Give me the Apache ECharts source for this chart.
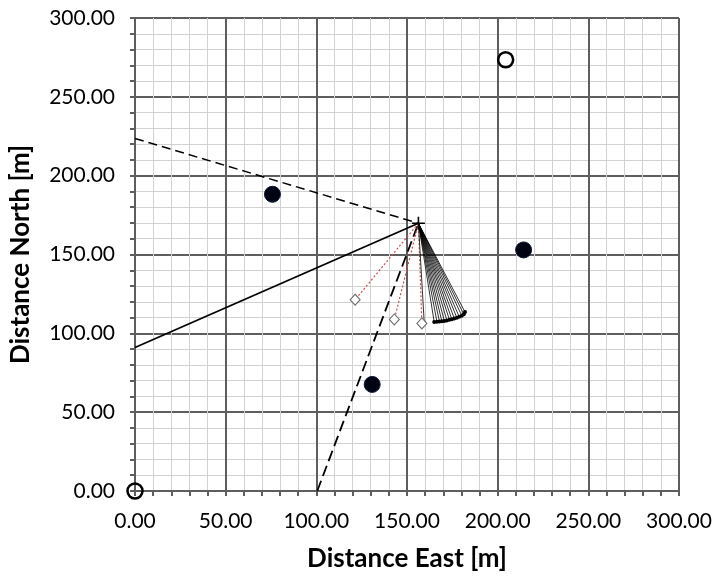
<!DOCTYPE html>
<html>
<head>
<meta charset="utf-8">
<script src="https://cdn.jsdelivr.net/npm/echarts@6/dist/echarts.min.js"></script>
<style>html,body{margin:0;padding:0;background:#fff}#c{width:716px;height:577px}</style>
</head>
<body>
<div id="c"></div>
<script>
const filledPts = [[75.8,188.2],[214.3,152.9],[130.8,67.6]];
const openPts = [[0,0],[204.4,273.5]];
const station = [156.3,169.8];
const dashedStartA = [0,223.6];
const solidStart = [0,91.0];
const dashedStartB = [100.5,0];
const diamonds = [[121.4,121.3],[143.0,108.8],[158.2,106.3]];
const nearDot = [159.5,106.8];
const fanEnds = [[165.0,107.2],[166.5,107.4],[167.9,107.5],[169.2,107.7],[170.6,107.9],[172.0,108.2],[173.4,108.6],[174.7,109.0],[176.1,109.4],[177.5,109.9],[178.8,110.5],[180.2,111.2],[181.3,112.1],[182.0,113.5]];

const FONT = 'Lato';
const axisCol = '#5e5e5e';
const series = [];

function seg(a, b, style, z) {
  series.push({type:'line', data:[a,b], symbol:'none', silent:true, z:z||3,
    lineStyle:style, animation:false});
}
seg(dashedStartA, station, {color:'#000', width:1.5, type:[9,5]});
seg(solidStart, station, {color:'#000', width:1.8, type:'solid'});
seg(dashedStartB, station, {color:'#000', width:1.8, type:[11,5]});
diamonds.forEach(d => seg(station, d, {color:'#cc4f4f', width:1.2, type:[2,2]}));
fanEnds.forEach(e => seg(station, e, {color:'#000', width:0.8, type:'solid'}, 4));
seg(station, nearDot, {color:'#000', width:0.8, type:'solid'}, 4);

series.push({type:'scatter', data:fanEnds.concat([nearDot]), symbol:'circle', symbolSize:4,
  itemStyle:{color:'#000', opacity:1}, z:5, animation:false});
series.push({type:'scatter', data:diamonds, symbol:'diamond', symbolSize:[10,11],
  itemStyle:{color:'#fff', borderColor:'#6e6e6e', borderWidth:1.1, opacity:1}, z:5, animation:false});
series.push({type:'scatter', data:filledPts, symbol:'circle', symbolSize:16,
  itemStyle:{color:'#000312', borderColor:'#0b1733', borderWidth:1, opacity:1}, z:6, animation:false});
series.push({type:'scatter', data:openPts, symbol:'circle', symbolSize:15,
  itemStyle:{color:'rgba(0,0,0,0)', borderColor:'#000', borderWidth:2.5, opacity:1}, z:6, animation:false});
series.push({type:'scatter', data:[station], symbol:'path://M0,-6L0,6M-6,0L6,0', symbolSize:13,
  itemStyle:{color:'none', borderColor:'#000', borderWidth:1.6, opacity:1}, z:7, animation:false});

function axis(name, isY) {
  return {
    type:'value', min:0, max:300, interval:50,
    name:name, nameLocation:'middle', nameGap: isY ? 101 : 55,
    nameTextStyle:{fontFamily:FONT, fontWeight:'bold', fontSize:26, color:'#000'},
    axisLine:{show:true, onZero:false, lineStyle:{color:axisCol, width:2}},
    axisTick:{show:true, inside:false, length:5, lineStyle:{color:axisCol, width:2}},
    minorTick:{show:true, splitNumber:5, length:5, lineStyle:{color:axisCol, width:2}},
    splitLine:{show:true, lineStyle:{color:axisCol, width:2}},
    minorSplitLine:{show:true, lineStyle:{color:'#d2d2d2', width:1}},
    axisLabel:{fontFamily:FONT, fontSize:21, color:'#000', margin:20,
      formatter: v => v.toFixed(2)}
  };
}

const chart = echarts.init(document.getElementById('c'), null, {renderer:'canvas'});
chart.setOption({
  animation:false,
  backgroundColor:'#fff',
  grid:{left:133, right:37, top:18, bottom:84, containLabel:false},
  xAxis: axis('Distance East [m]', false),
  yAxis: axis('Distance North [m]', true),
  series: series
});
</script>
</body>
</html>
